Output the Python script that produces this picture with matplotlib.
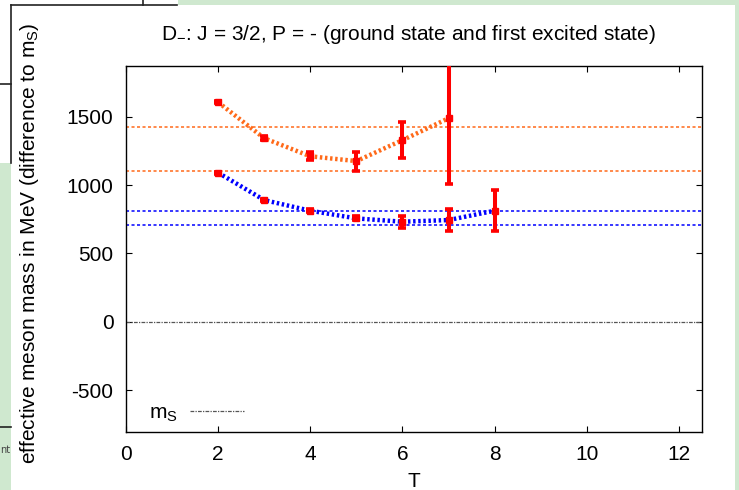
import matplotlib
matplotlib.use("Agg")
import matplotlib.pyplot as plt
from matplotlib.patches import Rectangle
from matplotlib.lines import Line2D

plt.rcParams['font.family'] = ['Liberation Sans', 'DejaVu Sans']
plt.rcParams['mathtext.fontset'] = 'custom'
plt.rcParams['mathtext.rm'] = 'Liberation Sans'
plt.rcParams['mathtext.it'] = 'Liberation Sans:italic'
plt.rcParams['axes.unicode_minus'] = False

# effektive Masse (Differenz zu m_S) fuer D_-, J = 3/2, P = -
T_ground = [2, 3, 4, 5, 6, 7, 8]
m_ground = [1090, 890, 812, 756, 732, 744, 812]
err_ground = [6, 8, 12, 15, 45, 80, 150]

T_excited = [2, 3, 4, 5, 6, 7]
m_excited = [1605, 1342, 1210, 1175, 1328, 1488]
err_excited = [6, 16, 30, 70, 132, 480]

# Plateau-Fits (Grenzen)
fit_ground = [810, 707]
fit_excited = [1427, 1104]

xticks = [0, 2, 4, 6, 8, 10, 12]
yticks = [-500, 0, 500, 1000, 1500]

W, H = 739, 490
fig = plt.figure(figsize=(W / 100, H / 100), dpi=100)


def px(x, y):
    return x / W, 1 - y / H


# Rand der Folie
green = '#cfe8cf'
for x0, y0, w, h in [(0, 163, 11, 327), (178, 0, 561, 5), (735, 0, 4, 490)]:
    fig.add_artist(Rectangle(px(x0, y0 + h), w / W, h / H, transform=fig.transFigure,
                             facecolor=green, edgecolor='none', zorder=0))
for (xa, ya), (xb, yb) in [((11, 5), (177, 5)), ((11, 5), (11, 163)), ((0, 84), (11, 84)),
                           ((143, 0), (143, 5)), ((0, 427), (11, 427))]:
    (fa, ga), (fb, gb) = px(xa, ya), px(xb, yb)
    fig.add_artist(Line2D([fa, fb], [ga, gb], transform=fig.transFigure,
                          color='#222222', lw=1.2, zorder=1))
fig.text(*px(0, 450), 'nt', fontsize=7, color='#444444', ha='left', va='center',
         family='DejaVu Sans')

l, b = px(126, 432)
r, t = px(702, 66)
ax = fig.add_axes([l, b, r - l, t - b])

orange = '#ff6a1a'
blue = '#0000ff'
red = '#ff0000'

for v in fit_excited:
    ax.axhline(v, color=orange, lw=1.1, ls=(0, (2, 1.6)), zorder=2)
for v in fit_ground:
    ax.axhline(v, color=blue, lw=1.1, ls=(0, (2, 1.6)), zorder=2)

ms_line, = ax.plot([0, 12.5], [0, 0], color='#555555', lw=0.9,
                   ls=(0, (3, 1, 1, 1)), label=r'm$_\mathregular{S}$', zorder=2)

ax.plot(T_excited, m_excited, color=orange, lw=3.2, ls=(0, (0.55, 0.6)),
        solid_capstyle='butt', dash_capstyle='butt', zorder=3)
ax.plot(T_ground, m_ground, color=blue, lw=3.2, ls=(0, (0.55, 0.6)),
        solid_capstyle='butt', dash_capstyle='butt', zorder=3)

for xs, ys, es in [(T_excited, m_excited, err_excited), (T_ground, m_ground, err_ground)]:
    ax.errorbar(xs, ys, yerr=es, fmt='s', color=red, ms=5, elinewidth=2.9,
                capsize=2.6, capthick=2.6, zorder=4)

ax.set_xlim(0, 12.5)
ax.set_ylim(-805, 1870)
ax.set_xticks(xticks)
ax.set_yticks(yticks)
ax.tick_params(direction='in', length=4, width=0.8, top=True, right=True,
               labelsize=15)
ax.tick_params(axis='y', pad=9)
ax.tick_params(axis='x', pad=9)
for s in ax.spines.values():
    s.set_linewidth(1.0)

ax.legend(handles=[ms_line], loc='lower left', frameon=False, fontsize=15,
          markerfirst=False, handlelength=2.6, handletextpad=0.6,
          borderaxespad=0.0, bbox_to_anchor=(0.025, 0.0))

fig.text(*px(408, 35), r'D$_\mathregular{-}$: J = 3/2, P = - (ground state and first excited state)',
         fontsize=15, ha='center', va='center')
fig.text(*px(414, 481), 'T', fontsize=15, ha='center', va='center')
fig.text(*px(30, 243), r'effective meson mass in MeV (difference to m$_\mathregular{S}$)',
         fontsize=15, rotation=90, ha='center', va='center')

fig.savefig('out.png', dpi=100)
